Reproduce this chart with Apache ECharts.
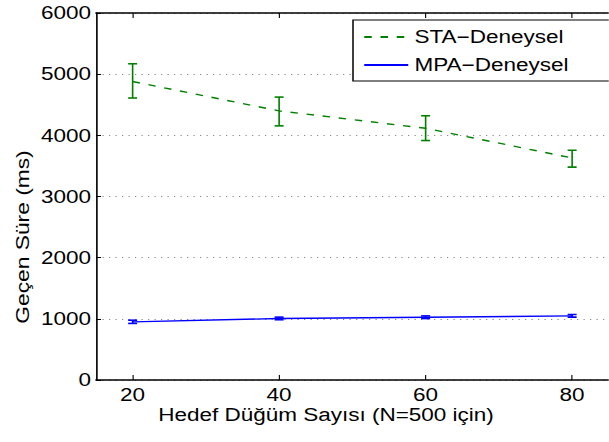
<!DOCTYPE html>
<html>
<head>
<meta charset="utf-8">
<script src="https://cdn.jsdelivr.net/npm/echarts@6/dist/echarts.min.js"></script>
<style>
html,body{margin:0;padding:0;background:#fff;overflow:hidden}
#c{width:487.2px;height:442px;transform:scaleX(1.25);transform-origin:0 0}
</style>
</head>
<body>
<div id="c"></div>
<script>
const xValues = [20, 40, 60, 80];
const xTicks = [20, 40, 60, 80];
const staMean = [4880, 4400, 4115, 3630];
const staLow = [4610, 4155, 3915, 3480];
const staHigh = [5170, 4625, 4320, 3755];
const mpaMean = [950, 1005, 1025, 1048];
const mpaLow = [925, 985, 1005, 1028];
const mpaHigh = [978, 1028, 1048, 1070];
const staName = 'STA\u2212Deneysel';
const mpaName = 'MPA\u2212Deneysel';
const xTitle = 'Hedef Düğüm Sayısı (N=500 için)';
const yTitle = 'Geçen Süre (ms)';

const FONT = 'Liberation Sans';
const FS = 18;
const SX = 1.25; // horizontal stretch of the figure

function errRender(color) {
  return function (params, api) {
    const x = api.value(0), lo = api.value(1), hi = api.value(2);
    const a = api.coord([x, lo]), b = api.coord([x, hi]);
    const hw = 4.5 / SX;
    const stV = { stroke: color, lineWidth: 1.3, fill: null };
    const stH = { stroke: color, lineWidth: 1.6, fill: null };
    return {
      type: 'group',
      children: [
        { type: 'line', shape: { x1: a[0], y1: a[1], x2: b[0], y2: b[1] }, style: stV },
        { type: 'line', shape: { x1: a[0] - hw, y1: a[1], x2: a[0] + hw, y2: a[1] }, style: stH },
        { type: 'line', shape: { x1: b[0] - hw, y1: b[1], x2: b[0] + hw, y2: b[1] }, style: stH }
      ]
    };
  };
}

const chart = echarts.init(document.getElementById('c'), null, { renderer: 'svg' });
const axisTxt = { color: '#000', fontFamily: FONT, fontSize: FS };
chart.setOption({
  animation: false,
  textStyle: { fontFamily: FONT },
  grid: { left: 96 / SX, top: 13, right: -8 / SX, bottom: 62, containLabel: false },
  legend: {
    data: [staName, mpaName],
    orient: 'vertical',
    left: 353 / SX, top: 20,
    padding: [7, 60, 6, 8],
    itemWidth: 44 / SX, itemHeight: 14, itemGap: 8,
    itemStyle: { opacity: 0 },
    borderColor: '#000', borderWidth: 1.2, backgroundColor: '#fff',
    textStyle: { color: '#000', fontFamily: FONT, fontSize: FS, lineHeight: 20 }
  },
  xAxis: [{
    type: 'value', min: 15, max: 85, position: 'bottom',
    axisLine: { show: true, onZero: false, lineStyle: { color: '#000', width: 1.5 } },
    axisTick: { show: true, inside: true, length: 5, customValues: xTicks, lineStyle: { color: '#000', width: 0.9 } },
    axisLabel: { show: true, margin: 6, customValues: xTicks, ...axisTxt },
    splitLine: { show: false }
  }, {
    type: 'value', min: 15, max: 85, position: 'top',
    axisLine: { show: true, onZero: false, lineStyle: { color: '#000', width: 1.5 } },
    axisTick: { show: true, inside: true, length: 5, customValues: xTicks, lineStyle: { color: '#000', width: 0.9 } },
    axisLabel: { show: false },
    splitLine: { show: false }
  }],
  yAxis: [{
    type: 'value', min: 0, max: 6000, interval: 1000,
    axisLine: { show: true, onZero: false, lineStyle: { color: '#000', width: 1.3 } },
    axisTick: { show: true, inside: true, length: 5 / SX, lineStyle: { color: '#000' } },
    axisLabel: { show: true, margin: 5 / SX, formatter: v => String(v), ...axisTxt },
    splitLine: { show: true, lineStyle: { color: '#8a8a8a', width: 1, type: [1, 4.2] } }
  }],
  graphic: [
    { type: 'text', x: 22 / SX, y: 237, rotation: Math.PI / 2, scaleX: 1.2, scaleY: 1 / SX,
      style: { text: yTitle, fill: '#000', font: '19px "' + FONT + '"', align: 'center', verticalAlign: 'middle' } },
    { type: 'text', x: 326 / SX, y: 415,
      style: { text: xTitle, fill: '#000', font: FS + 'px "' + FONT + '"', align: 'center', verticalAlign: 'middle' } }
  ],
  series: [{
    name: staName, type: 'line', symbol: 'none',
    data: xValues.map((x, i) => [x, staMean[i]]),
    lineStyle: { color: '#008000', width: 1.4, type: [6, 7] },
    itemStyle: { color: '#008000' }, z: 3
  }, {
    name: mpaName, type: 'line', symbol: 'none',
    data: xValues.map((x, i) => [x, mpaMean[i]]),
    lineStyle: { color: '#0000ff', width: 1.4, type: 'solid' },
    itemStyle: { color: '#0000ff' }, z: 3
  }, {
    name: 'staErr', type: 'custom', renderItem: errRender('#008000'),
    data: xValues.map((x, i) => [x, staLow[i], staHigh[i]]), z: 3
  }, {
    name: 'mpaErr', type: 'custom', renderItem: errRender('#0000ff'),
    data: xValues.map((x, i) => [x, mpaLow[i], mpaHigh[i]]), z: 3
  }]
});
</script>
</body>
</html>
